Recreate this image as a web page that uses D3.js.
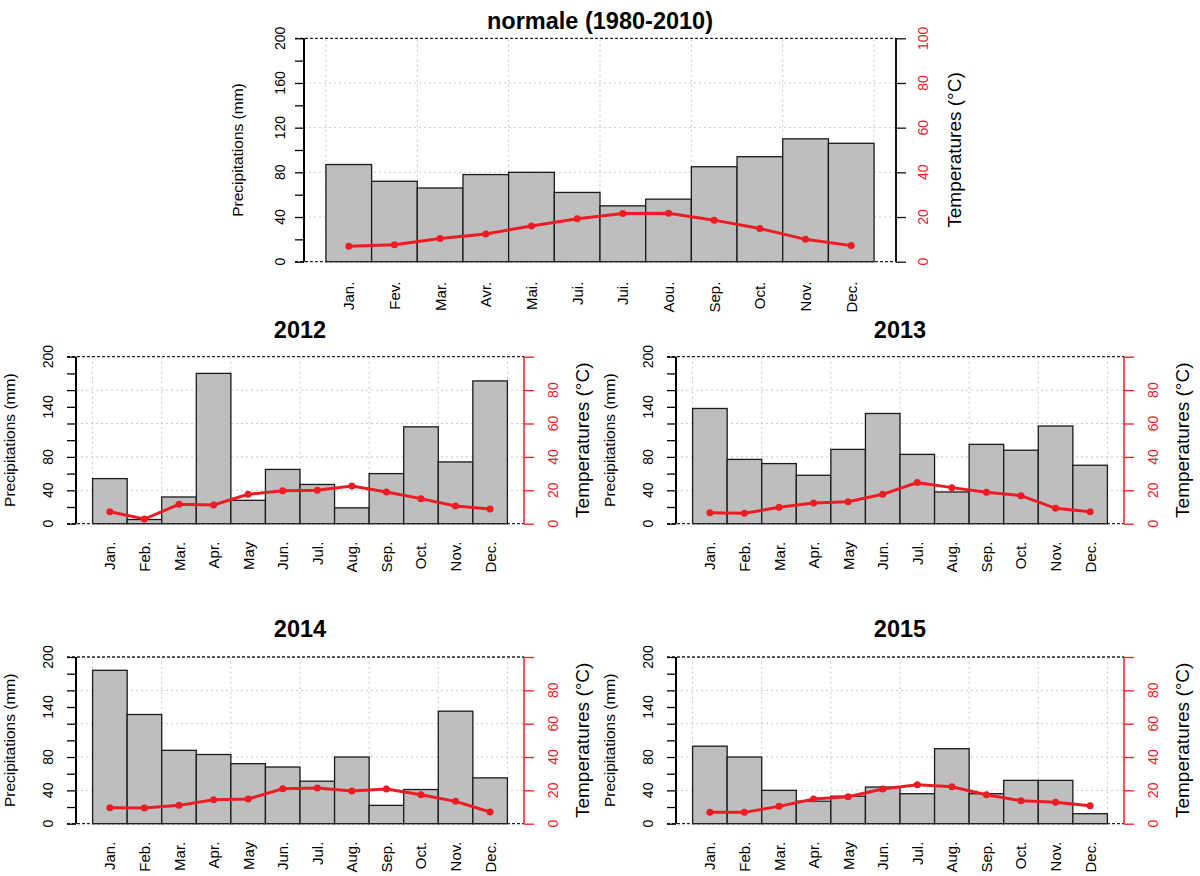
<!DOCTYPE html>
<html>
<head>
<meta charset="utf-8">
<script src="https://cdn.jsdelivr.net/npm/d3@7"></script>
<style>
  body { margin: 0; background: #fff; }
  text { font-family: "Liberation Sans", Arial, sans-serif; }
</style>
</head>
<body>
<svg id="chart" width="1200" height="876"></svg>
<script>
// month labels
var monthsFr = ["Jan.", "Fev.", "Mar.", "Avr.", "Mai.", "Jui.", "Jui.", "Aou.", "Sep.", "Oct.", "Nov.", "Dec."];
var monthsEn = ["Jan.", "Feb.", "Mar.", "Apr.", "May", "Jun.", "Jul.", "Aug.", "Sep.", "Oct.", "Nov.", "Dec."];

// precipitation (mm) and temperature (°C) per month
var precipNormale = [87, 72, 66, 78, 80, 62, 50, 56, 85, 94, 110, 106];
var tempNormale = [6.9, 7.6, 10.4, 12.4, 16, 19.2, 21.6, 21.7, 18.6, 14.9, 10, 7.2];

var precip2012 = [54, 5, 32, 180, 28, 65, 47, 19, 60, 116, 74, 171];
var temp2012 = [7.2, 2.8, 11.6, 11.2, 17.6, 19.8, 20, 22.6, 19, 15, 10.6, 8.8];

var precip2013 = [138, 77, 72, 58, 89, 132, 83, 38, 95, 88, 117, 70];
var temp2013 = [6.6, 6.2, 9.8, 12.4, 13.2, 17.6, 24.6, 21.6, 18.8, 16.8, 9.2, 7.2];

var precip2014 = [184, 131, 88, 83, 72, 68, 51, 80, 22, 41, 135, 55];
var temp2014 = [9.6, 9.4, 11, 14.4, 14.8, 21, 21.4, 19.6, 20.8, 17.4, 13.4, 7];

var precip2015 = [93, 80, 40, 27, 33, 44, 36, 90, 36, 52, 52, 12];
var temp2015 = [6.8, 6.8, 10.4, 14.8, 16.2, 20.8, 23.4, 22.2, 17.4, 13.8, 12.8, 10.8];

// tick values
var precipTicks = d3.range(0, 201, 20);
var tempTicks = d3.range(0, 101, 20);

var RED = "#ec1c24";
var svg = d3.select("#chart");

function panel(opt) {
    var g = svg.append("g");

    var x = d3.scaleBand()
        .domain(d3.range(12))
        .range([opt.left, opt.right])
        .paddingInner(0)
        .paddingOuter(0.48);

    var y = d3.scaleLinear().domain([0, 200]).range([opt.bottom, opt.top]);
    var yT = d3.scaleLinear().domain([0, 100]).range([opt.bottom, opt.top]);

    // grid
    g.selectAll(".hgrid")
        .data([40, 80, 120, 160])
        .enter()
        .append("line")
        .attr("x1", opt.left).attr("x2", opt.right)
        .attr("y1", function (d) { return y(d); })
        .attr("y2", function (d) { return y(d); })
        .attr("stroke", "#c8c8c8")
        .attr("stroke-dasharray", "2,3");

    g.selectAll(".vgrid")
        .data([0, 2, 4, 6, 8, 10, 12])
        .enter()
        .append("line")
        .attr("x1", function (d) { return x(0) + d * x.bandwidth(); })
        .attr("x2", function (d) { return x(0) + d * x.bandwidth(); })
        .attr("y1", y(0)).attr("y2", y(200))
        .attr("stroke", "#c8c8c8")
        .attr("stroke-dasharray", "2,3");

    // bars
    g.selectAll(".bar")
        .data(opt.precip)
        .enter()
        .append("rect")
        .attr("x", function (d, i) { return x(i); })
        .attr("y", function (d) { return y(d); })
        .attr("width", x.bandwidth())
        .attr("height", function (d) { return y(0) - y(d); })
        .attr("fill", "#bebebe")
        .attr("stroke", "#1a1a1a")
        .attr("stroke-width", 1.3);

    // dashed box lines at 0 and 200
    g.selectAll(".hbox")
        .data([0, 200])
        .enter()
        .append("line")
        .attr("x1", opt.left - 9).attr("x2", opt.right)
        .attr("y1", function (d) { return y(d); })
        .attr("y2", function (d) { return y(d); })
        .attr("stroke", "#222")
        .attr("stroke-width", 1.3)
        .attr("stroke-dasharray", "3,2");

    // left axis
    var axL = g.append("g")
        .attr("transform", "translate(" + opt.left + ",0)")
        .call(d3.axisLeft(y).tickValues(precipTicks).tickSize(9).tickFormat(""));
    axL.select(".domain").attr("stroke-width", 2).attr("d", "M0," + y(0) + "V" + y(200));
    axL.selectAll(".tick line").attr("stroke-width", 1.3);

    g.selectAll(".ylab")
        .data(opt.leftLabels)
        .enter()
        .append("text")
        .attr("transform", function (d) {
            return "translate(" + (opt.left - opt.lOff) + "," + y(d) + ") rotate(-90)";
        })
        .attr("text-anchor", "middle")
        .attr("dominant-baseline", "central")
        .attr("font-size", 14)
        .text(function (d) { return d; });

    g.append("text")
        .attr("transform", "translate(" + (opt.left - 66.5) + "," + y(100) + ") rotate(-90)")
        .attr("text-anchor", "middle")
        .attr("dominant-baseline", "central")
        .attr("font-size", 15.5)
        .text("Precipitations (mm)");

    // right axis
    var axColor = opt.redAxis ? RED : "#111";
    var axR = g.append("g")
        .attr("transform", "translate(" + opt.right + ",0)")
        .call(d3.axisRight(yT).tickValues(tempTicks).tickSize(10).tickFormat(""));
    axR.select(".domain").attr("stroke", axColor).attr("stroke-width", opt.redAxis ? 1.5 : 2)
        .attr("d", "M0," + yT(0) + "V" + yT(100));
    axR.selectAll(".tick line").attr("stroke", axColor).attr("stroke-width", 1.3);

    g.selectAll(".tlab")
        .data(opt.rightLabels)
        .enter()
        .append("text")
        .attr("transform", function (d) {
            return "translate(" + (opt.right + opt.rOff) + "," + yT(d) + ") rotate(-90)";
        })
        .attr("text-anchor", "middle")
        .attr("dominant-baseline", "central")
        .attr("font-size", 14)
        .attr("fill", RED)
        .text(function (d) { return d; });

    g.append("text")
        .attr("transform", "translate(" + (opt.right + 58) + "," + yT(50) + ") rotate(-90)")
        .attr("text-anchor", "middle")
        .attr("dominant-baseline", "central")
        .attr("font-size", 19)
        .text("Temperatures (°C)");

    // month labels
    g.selectAll(".mlab")
        .data(opt.months)
        .enter()
        .append("text")
        .attr("transform", function (d, i) {
            return "translate(" + (x(i) + x.bandwidth() / 2) + "," + (y(0) + opt.mOff) + ") rotate(-90)";
        })
        .attr("text-anchor", "end")
        .attr("dominant-baseline", "central")
        .attr("font-size", 15)
        .text(function (d) { return d; });

    // temperature line
    var line = d3.line()
        .x(function (d, i) { return x(i) + x.bandwidth() / 2; })
        .y(function (d) { return yT(d); });

    g.append("path")
        .datum(opt.temp)
        .attr("d", line)
        .attr("fill", "none")
        .attr("stroke", RED)
        .attr("stroke-width", 3);

    g.selectAll(".pt")
        .data(opt.temp)
        .enter()
        .append("circle")
        .attr("cx", function (d, i) { return x(i) + x.bandwidth() / 2; })
        .attr("cy", function (d) { return yT(d); })
        .attr("r", 3.5)
        .attr("fill", RED);

    // title
    g.append("text")
        .attr("x", (opt.left + opt.right) / 2)
        .attr("y", opt.titleY)
        .attr("text-anchor", "middle")
        .attr("dominant-baseline", "central")
        .attr("font-size", 23.5)
        .attr("font-weight", "bold")
        .text(opt.title);
}

panel({ title: "normale (1980-2010)", left: 304, right: 896, top: 38.3, bottom: 261.7, titleY: 21,
    precip: precipNormale, temp: tempNormale, months: monthsFr,
    leftLabels: [0, 40, 80, 120, 160, 200], rightLabels: [0, 20, 40, 60, 80, 100],
    lOff: 24, rOff: 27, mOff: 20, redAxis: false });

var subLeft = [0, 40, 80, 140, 200];
var subRight = [0, 20, 40, 60, 80];

panel({ title: "2012", left: 76, right: 524, top: 356.7, bottom: 523.7, titleY: 330,
    precip: precip2012, temp: temp2012, months: monthsEn,
    leftLabels: subLeft, rightLabels: subRight, lOff: 28, rOff: 29, mOff: 18, redAxis: true });

panel({ title: "2013", left: 676, right: 1124, top: 356.7, bottom: 523.7, titleY: 330,
    precip: precip2013, temp: temp2013, months: monthsEn,
    leftLabels: subLeft, rightLabels: subRight, lOff: 28, rOff: 29, mOff: 18, redAxis: true });

panel({ title: "2014", left: 76, right: 524, top: 657, bottom: 823.7, titleY: 629,
    precip: precip2014, temp: temp2014, months: monthsEn,
    leftLabels: subLeft, rightLabels: subRight, lOff: 28, rOff: 29, mOff: 18, redAxis: true });

panel({ title: "2015", left: 676, right: 1124, top: 657, bottom: 823.7, titleY: 629,
    precip: precip2015, temp: temp2015, months: monthsEn,
    leftLabels: subLeft, rightLabels: subRight, lOff: 28, rOff: 29, mOff: 18, redAxis: true });
</script>
</body>
</html>
